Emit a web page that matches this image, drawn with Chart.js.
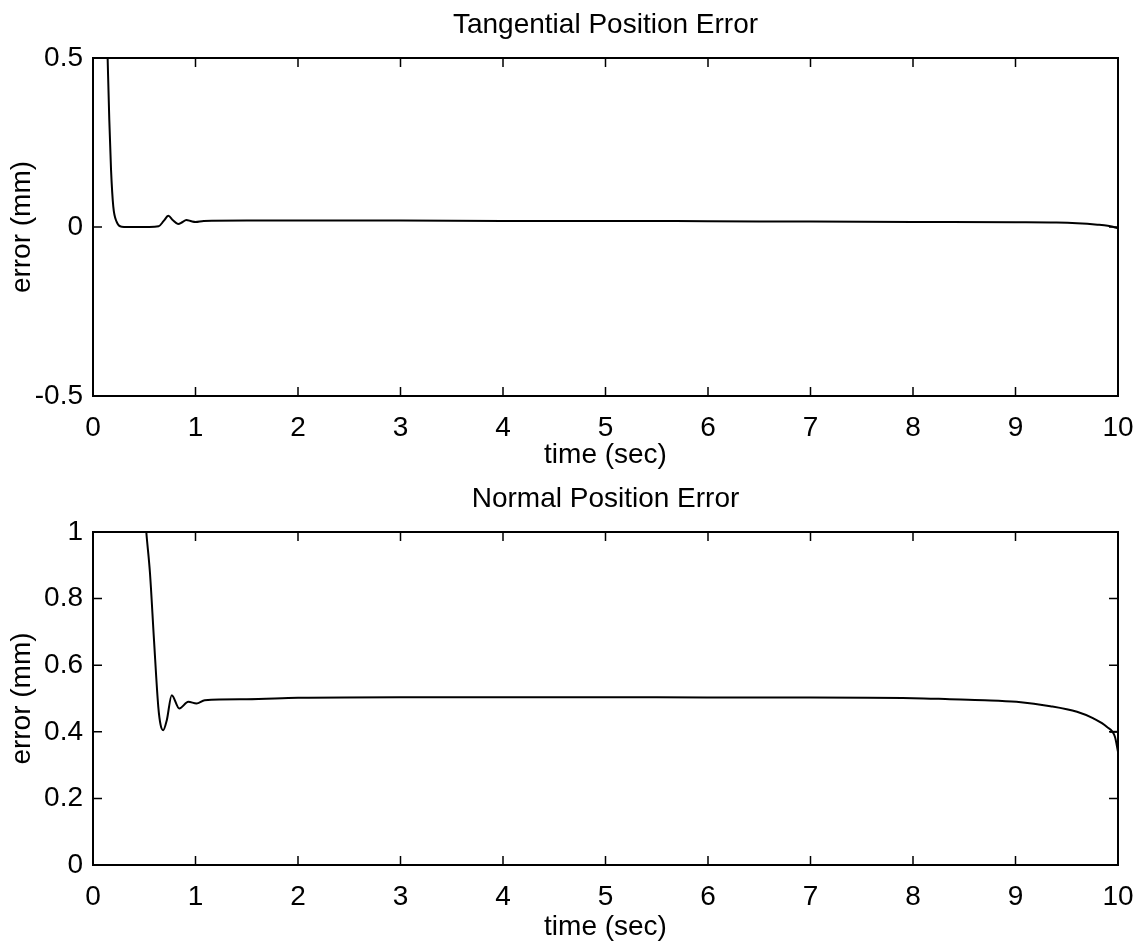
<!DOCTYPE html>
<html>
<head>
<meta charset="utf-8">
<title>Position Error</title>
<script src="https://cdn.jsdelivr.net/npm/chart.js@4.4.1/dist/chart.umd.min.js"></script>
<style>
  html, body { margin: 0; padding: 0; background: #fff; }
  .panel { position: absolute; left: 0; width: 1146px; }
  #top { top: 0; height: 472px; }
  #bottom { top: 472px; height: 473px; }
</style>
</head>
<body>
<div class="panel" id="top"><canvas id="tanChart"></canvas></div>
<div class="panel" id="bottom"><canvas id="normChart"></canvas></div>
<script>
// Values
const timeTicks = [0, 1, 2, 3, 4, 5, 6, 7, 8, 9, 10];
const tanTicks = [-0.5, 0, 0.5];
const normTicks = [0, 0.2, 0.4, 0.6, 0.8, 1];

// Tangential position error (mm)
const tanTime = [0.10, 0.143, 0.159, 0.176, 0.198, 0.23, 0.28, 0.40, 0.55, 0.64, 0.69, 0.735, 0.78, 0.83, 0.87, 0.91, 0.96, 1.0, 1.08, 1.5, 2, 3, 4, 5, 6, 7, 8, 9, 9.4, 9.6, 9.8, 9.9, 9.95, 10];
const tanErr = [1.0, 0.497, 0.317, 0.169, 0.06, 0.016, 0.001, 0.0, 0.0, 0.002, 0.018, 0.033, 0.02, 0.009, 0.014, 0.021, 0.017, 0.015, 0.018, 0.019, 0.019, 0.019, 0.018, 0.018, 0.017, 0.016, 0.015, 0.014, 0.013, 0.011, 0.007, 0.004, 0.001, -0.004];

// Normal position error (mm)
const normTime = [0.45, 0.52, 0.556, 0.595, 0.637, 0.66, 0.685, 0.72, 0.768, 0.842, 0.93, 1.01, 1.09, 1.5, 2, 3, 4, 5, 6, 7, 8, 8.36, 8.7, 9.01, 9.34, 9.6, 9.76, 9.89, 9.97, 10];
const normErr = [1.3, 1.0, 0.876, 0.676, 0.475, 0.42, 0.405, 0.435, 0.51, 0.47, 0.49, 0.485, 0.495, 0.498, 0.502, 0.504, 0.504, 0.504, 0.503, 0.503, 0.501, 0.498, 0.495, 0.49, 0.477, 0.46, 0.44, 0.415, 0.385, 0.34];

// short stray segment at the right edge of the lower plot
const normEndTime = [9.92, 10];
const normEndErr = [0.40, 0.40];

Chart.defaults.font.family = '"Liberation Sans", Arial, sans-serif';
Chart.defaults.font.size = 28;
Chart.defaults.color = '#000';

function toPoints(xs, ys) {
    return xs.map((x, i) => ({ x: x, y: ys[i] }));
}

// MATLAB style box with inward ticks on all four sides
const boxTicks = {
    id: 'boxTicks',
    afterDraw(chart) {
        const { ctx, chartArea: a, scales } = chart;
        const len = 9;
        ctx.save();
        ctx.strokeStyle = '#000';
        ctx.lineWidth = 1.5;
        ctx.beginPath();
        scales.x.ticks.forEach(t => {
            const px = scales.x.getPixelForValue(t.value);
            ctx.moveTo(px, a.bottom); ctx.lineTo(px, a.bottom - len);
            ctx.moveTo(px, a.top); ctx.lineTo(px, a.top + len);
        });
        scales.y.ticks.forEach(t => {
            const py = scales.y.getPixelForValue(t.value);
            ctx.moveTo(a.left, py); ctx.lineTo(a.left + len, py);
            ctx.moveTo(a.right, py); ctx.lineTo(a.right - len, py);
        });
        ctx.stroke();
        ctx.lineWidth = 2;
        ctx.strokeRect(a.left, a.top, a.right - a.left, a.bottom - a.top);
        ctx.restore();
    }
};

function lineSet(xs, ys) {
    return {
        data: toPoints(xs, ys),
        borderColor: '#000',
        borderWidth: 2,
        pointRadius: 0,
        cubicInterpolationMode: 'monotone',
        fill: false
    };
}

function makeChart(canvasId, cfg) {
    const ctx = document.getElementById(canvasId);
    return new Chart(ctx, {
        type: 'line',
        data: { datasets: cfg.datasets },
        options: {
            responsive: true,
            maintainAspectRatio: false,
            animation: false,
            devicePixelRatio: 1,
            layout: { padding: { left: 0, right: 28, top: 0, bottom: 0 } },
            plugins: { legend: { display: false }, tooltip: { enabled: false } },
            scales: {
                x: {
                    type: 'linear', position: 'bottom', min: 0, max: 10,
                    afterBuildTicks: s => { s.ticks = timeTicks.map(v => ({ value: v })); },
                    afterFit: s => { s.height = cfg.bottomH; s.paddingLeft = 0; s.paddingRight = 0; },
                    grid: { display: false, drawTicks: false }, border: { display: false },
                    ticks: { padding: 15, autoSkip: false, maxRotation: 0, callback: v => String(v) },
                    title: { display: true, text: 'time (sec)', padding: { top: 0, bottom: cfg.xTitlePad } }
                },
                xTop: {
                    type: 'linear', position: 'top', min: 0, max: 10,
                    afterFit: s => { s.height = cfg.topH; s.paddingLeft = 0; s.paddingRight = 0; },
                    grid: { display: false, drawTicks: false }, border: { display: false },
                    ticks: { display: false },
                    title: { display: true, text: cfg.title, padding: { top: cfg.titlePad, bottom: 0 } }
                },
                y: {
                    type: 'linear', position: 'left', min: cfg.yMin, max: cfg.yMax,
                    afterBuildTicks: s => { s.ticks = cfg.yTicks.map(v => ({ value: v })); },
                    afterFit: s => { s.width = 93; },
                    grid: { display: false, drawTicks: false }, border: { display: false },
                    ticks: { padding: 10, callback: v => String(v) },
                    title: { display: true, text: 'error (mm)', padding: { top: 5, bottom: 0 } }
                }
            }
        },
        plugins: [boxTicks]
    });
}

makeChart('tanChart', {
    title: 'Tangential Position Error',
    datasets: [lineSet(tanTime, tanErr)],
    yMin: -0.5, yMax: 0.5, yTicks: tanTicks,
    topH: 58, bottomH: 76, titlePad: 8, xTitlePad: 0
});

makeChart('normChart', {
    title: 'Normal Position Error',
    datasets: [lineSet(normTime, normErr), lineSet(normEndTime, normEndErr)],
    yMin: 0, yMax: 1, yTicks: normTicks,
    topH: 60, bottomH: 80, titlePad: 10, xTitlePad: 1
});
</script>
</body>
</html>
